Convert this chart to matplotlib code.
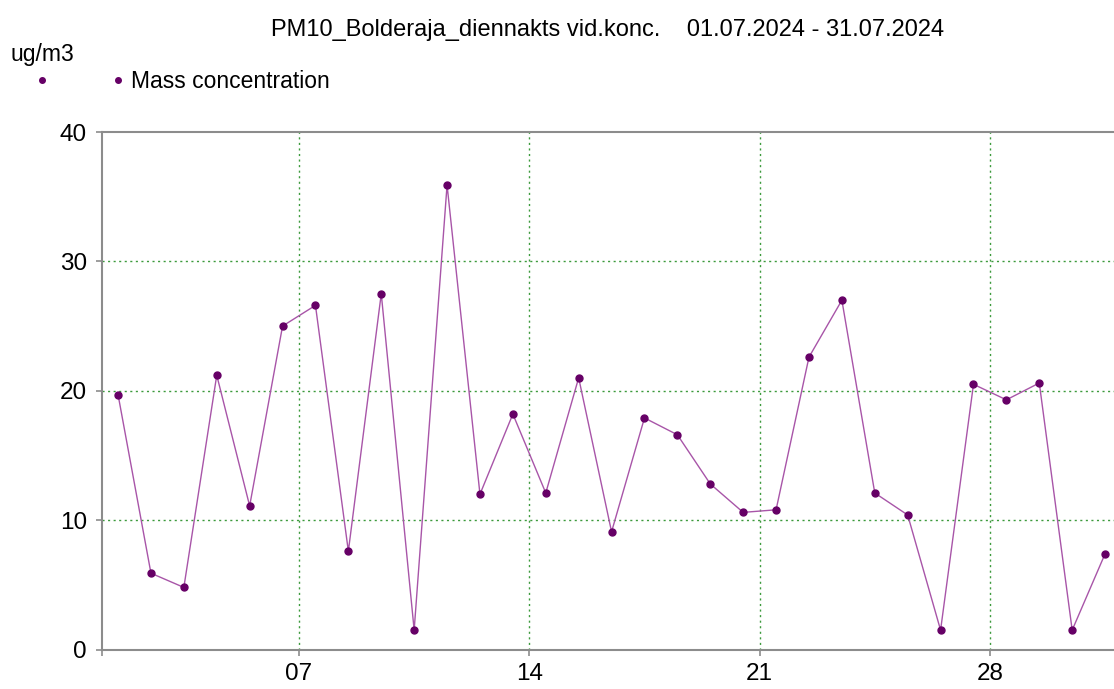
import matplotlib
matplotlib.use("Agg")
import matplotlib.pyplot as plt
from matplotlib.lines import Line2D
import pandas as pd

plt.rcParams['font.family'] = ['Liberation Sans', 'DejaVu Sans']

# ---- data ----
dates = pd.date_range("2024-07-01 12:00", "2024-07-31 12:00", freq="D")
values = [19.7, 5.9, 4.8, 21.2, 11.1, 25.0, 26.6, 7.6, 27.5, 1.5,
          35.9, 12.0, 18.2, 12.1, 21.0, 9.1, 17.9, 16.6, 12.8, 10.6,
          10.8, 22.6, 27.0, 12.1, 10.4, 1.5, 20.5, 19.3, 20.6, 1.5, 7.4]
tick_dates = pd.to_datetime(["2024-07-01", "2024-07-07", "2024-07-14", "2024-07-21", "2024-07-28"])
tick_labels = ["", "07", "14", "21", "28"]
y_ticks = [0, 10, 20, 30, 40]
title = "PM10_Bolderaja_diennakts vid.konc.    01.07.2024 - 31.07.2024"
unit = "ug/m3"
series_name = "Mass concentration"

line_color = "#a855a8"
marker_color = "#660066"
grid_color = "#3c9a3c"
spine_color = "#8c8c8c"

fig = plt.figure(figsize=(11.14, 6.89), dpi=100)
ax = fig.add_axes([0.0912, 0.0573, 0.9088, 0.7511])

ax.plot(dates, values, color=line_color, lw=1.0, zorder=3)
ax.plot(dates, values, ls='none', marker='o', ms=5, color=marker_color,
        markeredgecolor=marker_color, zorder=4)

ax.set_xlim(pd.Timestamp("2024-07-01 00:00"), pd.Timestamp("2024-07-31 18:30"))
ax.set_ylim(0, 40)
ax.set_yticks(y_ticks)
ax.set_xticks(tick_dates)
ax.set_xticklabels(tick_labels)

for s in ['left', 'bottom', 'top']:
    ax.spines[s].set_color(spine_color)
    ax.spines[s].set_linewidth(1.5)
ax.spines['right'].set_visible(False)

ax.tick_params(axis='both', colors=spine_color, labelcolor='black', labelsize=17.5,
               length=4.5, width=1.2, direction='out')
ax.tick_params(axis='x', pad=5)
ax.tick_params(axis='y', pad=6)

for d in tick_dates[1:]:
    ax.axvline(d, color=grid_color, lw=1.0, ls=(0, (1.5, 2.5)), zorder=1)
for yv in y_ticks[1:-1]:
    ax.axhline(yv, color=grid_color, lw=1.0, ls=(0, (1.5, 2.5)), zorder=1)

fig.text(0.545, 0.957, title, ha='center', va='center', fontsize=17)
fig.text(0.009, 0.921, unit, ha='left', va='center', fontsize=16.5)
fig.text(0.118, 0.882, series_name, ha='left', va='center', fontsize=16.5)
fig.add_artist(Line2D([0.038], [0.884], marker='o', ms=4, color=marker_color,
                      transform=fig.transFigure, ls='none'))
fig.add_artist(Line2D([0.106], [0.884], marker='o', ms=4, color=marker_color,
                      transform=fig.transFigure, ls='none'))

fig.savefig("out.png", dpi=100)
